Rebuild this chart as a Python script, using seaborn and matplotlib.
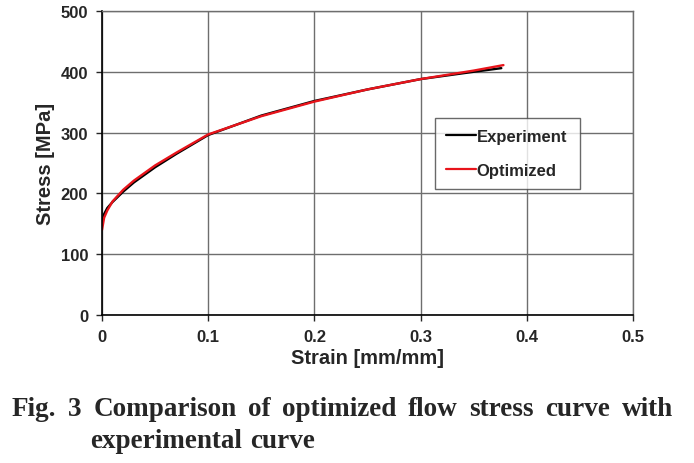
import matplotlib
matplotlib.use("Agg")
import matplotlib.pyplot as plt
import seaborn as sns
import pandas as pd

exp_strain = [0, 0.002, 0.005, 0.01, 0.02, 0.03, 0.05, 0.07, 0.1, 0.15, 0.2, 0.25, 0.3, 0.35, 0.376]
exp_stress = [152, 166, 176, 186, 203, 218, 243, 265, 296, 328, 352, 371, 388, 400, 406]

opt_strain = [0, 0.002, 0.005, 0.01, 0.02, 0.03, 0.05, 0.07, 0.1, 0.15, 0.2, 0.25, 0.3, 0.35, 0.378]
opt_stress = [140, 160, 172, 187, 206, 221, 246, 267, 297, 327, 351, 371, 388, 402, 411]

x_ticks = [0, 0.1, 0.2, 0.3, 0.4, 0.5]
x_tick_labels = ["0", "0.1", "0.2", "0.3", "0.4", "0.5"]
y_ticks = [0, 100, 200, 300, 400, 500]

caption_line1 = ["Fig.", "3", "Comparison", "of", "optimized", "flow", "stress", "curve", "with"]
caption_line2 = ["experimental", "curve"]

df = pd.concat([
    pd.DataFrame({"strain": exp_strain, "stress": exp_stress, "curve": "Experiment"}),
    pd.DataFrame({"strain": opt_strain, "stress": opt_stress, "curve": "Optimized"}),
])

sns.set_style("white")
plt.rcParams["font.family"] = ["Liberation Sans", "DejaVu Sans"]

W, H = 694, 464
fig = plt.figure(figsize=(W / 100, H / 100), dpi=100)
ax = fig.add_axes([102 / W, 1 - 316 / H, 531 / W, 304 / H])

sns.lineplot(data=df, x="strain", y="stress", hue="curve",
             palette={"Experiment": "black", "Optimized": "#e8141b"},
             linewidth=1.7, ax=ax, sort=False)

ax.set_xlim(0, 0.5)
ax.set_ylim(0, 500)
ax.set_xticks(x_ticks)
ax.set_xticklabels(x_tick_labels)
ax.set_yticks(y_ticks)
ax.grid(True, color="#6e6e6e", linewidth=1.0)
ax.set_axisbelow(True)
for s in ["top", "right"]:
    ax.spines[s].set_color("#6e6e6e")
    ax.spines[s].set_linewidth(1.0)
for s in ["left", "bottom"]:
    ax.spines[s].set_color("black")
    ax.spines[s].set_linewidth(1.2)
ax.tick_params(axis="both", length=4, width=1, direction="out", labelsize=12, pad=6,
               bottom=True, left=True)
for lab in ax.get_xticklabels() + ax.get_yticklabels():
    lab.set_fontweight("bold")

ax.set_xlabel("Strain [mm/mm]", fontsize=14.5, fontweight="bold", labelpad=3)
ax.set_ylabel("Stress [MPa]", fontsize=14.5, fontweight="bold", labelpad=4)

leg = ax.legend(loc="lower left", bbox_to_anchor=(0.627, 0.414, 0.273, 0.224),
                mode="expand", borderaxespad=0, fancybox=False, frameon=True, fontsize=12,
                handlelength=1.8, handletextpad=0.05, borderpad=0.65, labelspacing=1.15)
leg.get_frame().set_edgecolor("#444444")
leg.get_frame().set_linewidth(1.0)
for t in leg.get_texts():
    t.set_fontweight("bold")
for h in leg.get_lines():
    h.set_linewidth(1.6)

# caption: first line justified between x=12 and x=673 px, hanging indent on line 2
cap_kw = dict(fontsize=19.5, fontweight="bold", family="Liberation Serif",
              ha="left", va="baseline")
renderer = fig.canvas.get_renderer()
words = [fig.text(0, 1 - 416 / H, w, **cap_kw) for w in caption_line1]
widths = [t.get_window_extent(renderer).width for t in words]
gap = (673 - 12 - sum(widths)) / (len(words) - 1)
x = 12
for t, w in zip(words, widths):
    t.set_x(x / W)
    x += w + gap

x = 90
for w in caption_line2:
    t = fig.text(x / W, 1 - 448 / H, w, **cap_kw)
    x += t.get_window_extent(renderer).width + 8

fig.savefig("out.png", dpi=100)
